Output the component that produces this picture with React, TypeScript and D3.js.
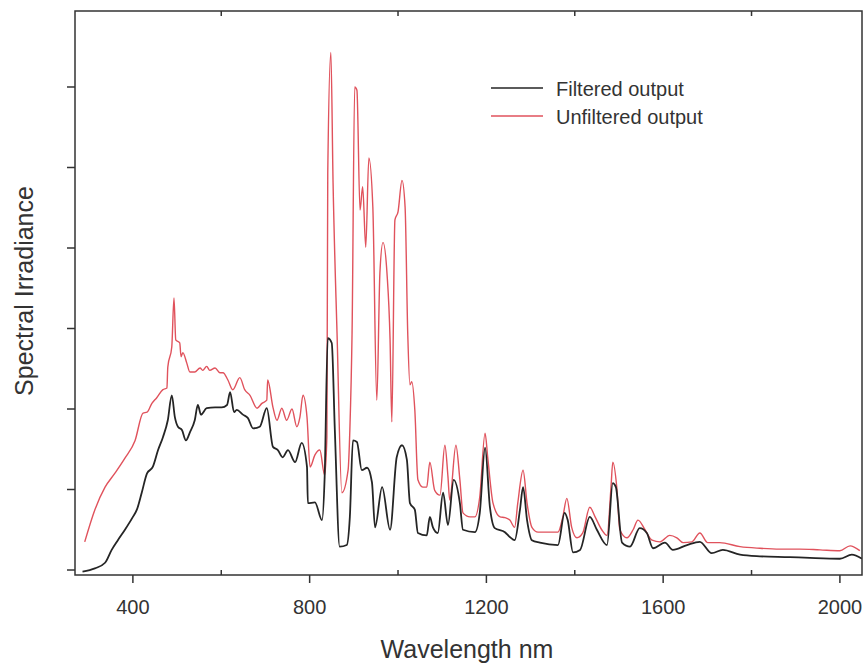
import React from "react";
import * as d3 from "d3";

// Wavelength (nm) and spectral irradiance (arbitrary units, 1 unit = 1 y tick)
const unfilteredWl = [291,314,337,359,382,405,423,432,443,454,468,477,479,488,493,497,506,509,513,522,529,540,552,558,567,574,586,597,604,615,626,642,653,665,681,692,703,705,717,726,737,748,760,771,778,785,794,801,812,823,834,839,841,848,853,862,873,887,891,896,902,907,914,920,927,934,943,952,959,966,975,982,986,993,1000,1009,1016,1022,1027,1031,1038,1045,1056,1065,1072,1083,1095,1106,1113,1117,1131,1140,1147,1163,1174,1185,1197,1203,1215,1231,1242,1253,1264,1271,1283,1292,1303,1317,1337,1362,1373,1382,1393,1405,1418,1434,1446,1461,1473,1482,1486,1495,1502,1518,1532,1543,1559,1575,1593,1615,1631,1645,1665,1683,1701,1728,1774,1819,1864,1909,1955,2000,2023,2045];
const unfilteredVal = [0.35,0.75,1.03,1.20,1.39,1.61,1.95,1.96,2.07,2.14,2.24,2.26,2.52,2.77,3.38,2.86,2.82,2.65,2.70,2.57,2.46,2.46,2.51,2.48,2.53,2.48,2.51,2.45,2.45,2.36,2.24,2.39,2.24,2.17,2.01,2.07,2.11,2.36,2.02,1.86,2.01,1.86,2.00,1.78,1.90,2.17,1.90,1.28,1.43,1.49,1.18,1.65,4.93,6.43,4.81,2.94,0.96,1.24,1.74,2.94,6.00,5.96,4.47,4.76,4.01,5.12,4.51,2.11,3.69,4.07,3.69,2.86,1.84,4.35,4.45,4.84,4.51,2.94,2.30,2.34,1.99,1.12,1.03,1.03,1.34,0.99,0.93,1.55,1.16,0.87,1.55,1.12,0.71,0.66,0.66,0.91,1.70,1.40,0.83,0.66,0.65,0.62,0.53,0.83,1.24,0.83,0.53,0.47,0.47,0.47,0.66,0.89,0.53,0.40,0.46,0.78,0.66,0.50,0.43,1.03,1.34,1.03,0.50,0.40,0.50,0.62,0.50,0.37,0.35,0.43,0.40,0.34,0.35,0.46,0.34,0.34,0.29,0.27,0.26,0.26,0.25,0.24,0.30,0.24];

const filteredWl = [286,314,337,352,366,382,400,409,420,432,445,457,468,479,488,495,502,511,520,529,540,547,554,567,586,601,613,620,629,635,649,660,672,687,703,717,728,739,751,767,782,794,796,812,828,834,841,850,857,868,884,891,898,907,918,930,941,948,964,982,997,1009,1020,1027,1038,1045,1065,1072,1079,1090,1102,1113,1126,1140,1147,1174,1185,1197,1208,1219,1242,1253,1264,1276,1283,1292,1303,1321,1362,1377,1384,1396,1412,1434,1450,1473,1486,1493,1507,1525,1547,1563,1577,1604,1622,1654,1683,1710,1735,1774,1819,1887,1932,2000,2027,2050];
const filteredVal = [-0.02,0.02,0.09,0.25,0.37,0.50,0.66,0.75,0.96,1.20,1.28,1.49,1.65,1.86,2.17,1.90,1.78,1.74,1.61,1.71,1.86,2.05,1.93,2.01,2.02,2.02,2.05,2.21,1.96,1.99,1.93,1.89,1.76,1.78,2.01,1.53,1.49,1.40,1.49,1.34,1.58,1.28,0.83,0.84,0.62,1.16,2.88,2.82,1.74,0.29,0.31,0.66,1.61,1.59,1.24,1.27,1.09,0.53,1.03,0.50,1.40,1.55,1.37,0.83,0.75,0.46,0.43,0.66,0.53,0.46,0.96,0.56,1.12,0.83,0.50,0.47,0.71,1.52,0.78,0.52,0.47,0.41,0.37,0.75,1.03,0.62,0.37,0.34,0.31,0.71,0.62,0.22,0.25,0.66,0.50,0.31,1.08,1.03,0.34,0.29,0.52,0.46,0.27,0.34,0.25,0.31,0.35,0.21,0.25,0.19,0.17,0.16,0.15,0.14,0.19,0.14];

const labeledTicks = [400, 800, 1200, 1600, 2000];
const minorTicks = [600, 1000, 1400, 1800];
const yTicks = [0, 1, 2, 3, 4, 5, 6];
const seriesNames = ["Filtered output", "Unfiltered output"];

const W = 867, H = 665;
const L = 75, R = 862, T = 11, B = 575;
const FONT = "Arial, 'Liberation Sans', Helvetica, sans-serif";
const RED = "#e0525c";
const BLK = "#252525";
const AXIS = "#333";

export default function App() {
  const x = d3.scaleLinear().domain([269, 2050]).range([L, R]);
  const y = d3.scaleLinear().domain([-0.062, 6.944]).range([B, T]);
  const line = d3
    .line<[number, number]>()
    .x((d) => x(d[0]))
    .y((d) => y(d[1]))
    .curve(d3.curveMonotoneX);
  const red = unfilteredWl.map((w, i) => [w, unfilteredVal[i]] as [number, number]);
  const blk = filteredWl.map((w, i) => [w, filteredVal[i]] as [number, number]);

  return (
    <svg
      width={W}
      height={H}
      style={{ position: "absolute", left: 0, top: 0, background: "#fff" }}
      fontFamily={FONT}
    >
      <defs>
        <clipPath id="plotclip">
          <rect x={L} y={T} width={R - L} height={B - T} />
        </clipPath>
      </defs>
      <g clipPath="url(#plotclip)">
        <path d={line(red) || ""} fill="none" stroke={RED} strokeWidth={1.4} strokeLinejoin="round" />
        <path d={line(blk) || ""} fill="none" stroke={BLK} strokeWidth={1.8} strokeLinejoin="round" />
      </g>
      {/* frame */}
      <rect x={L} y={T} width={R - L} height={B - T} fill="none" stroke={AXIS} strokeWidth={1.5} />
      {/* x major ticks (outward) + labels */}
      {labeledTicks.map((t) => (
        <g key={"xt" + t}>
          <line x1={x(t)} x2={x(t)} y1={B} y2={B + 8} stroke={AXIS} strokeWidth={1.5} />
          <text x={x(t)} y={614} textAnchor="middle" fontSize={20} fill="#333">
            {t}
          </text>
        </g>
      ))}
      {/* minor ticks (inward) bottom & top */}
      {minorTicks.map((t) => (
        <g key={"mt" + t}>
          <line x1={x(t)} x2={x(t)} y1={B} y2={B - 5} stroke={AXIS} strokeWidth={1.5} />
          <line x1={x(t)} x2={x(t)} y1={T} y2={T + 5} stroke={AXIS} strokeWidth={1.5} />
        </g>
      ))}
      {/* y ticks */}
      {yTicks.map((t) => (
        <line key={"yt" + t} x1={L - 8} x2={L} y1={y(t)} y2={y(t)} stroke={AXIS} strokeWidth={1.5} />
      ))}
      {/* axis titles */}
      <text x={467} y={658} textAnchor="middle" fontSize={25} fill="#333">
        Wavelength nm
      </text>
      <text
        transform={`translate(33, 291) rotate(-90)`}
        textAnchor="middle"
        fontSize={25}
        fill="#333"
      >
        Spectral Irradiance
      </text>
      {/* legend */}
      <line x1={491} x2={543} y1={88} y2={88} stroke={BLK} strokeWidth={1.5} />
      <text x={556} y={96} fontSize={20} fill="#333">{seriesNames[0]}</text>
      <line x1={491} x2={543} y1={116} y2={116} stroke={RED} strokeWidth={1.5} />
      <text x={556} y={124} fontSize={20} fill="#333">{seriesNames[1]}</text>
    </svg>
  );
}
